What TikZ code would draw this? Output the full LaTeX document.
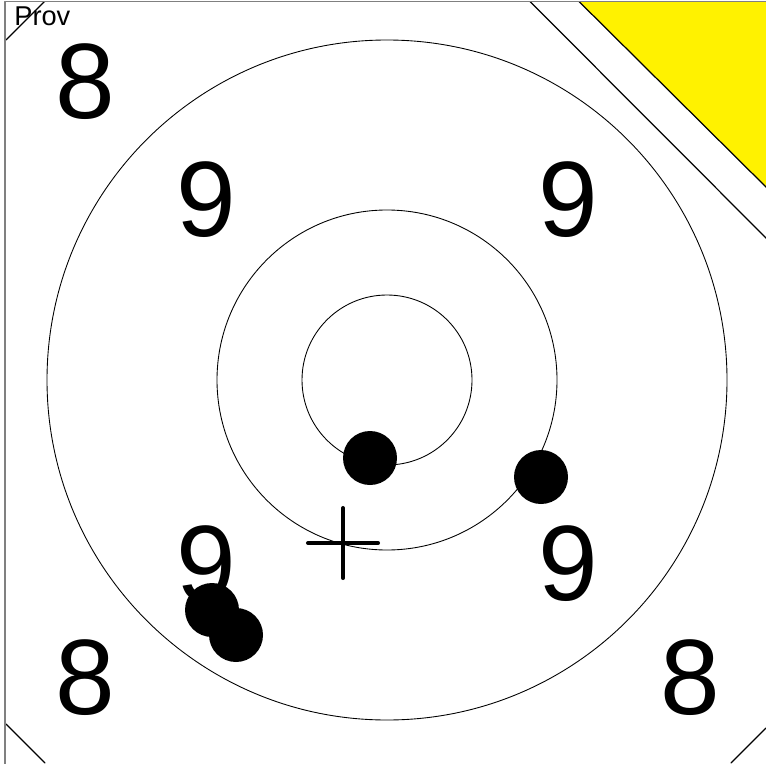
\documentclass[tikz,border=0pt]{standalone}
\usepackage{fontspec}
\setmainfont{Liberation Sans}
\usetikzlibrary{calc}
\begin{document}
\begin{tikzpicture}[x=0.02cm, y=-0.02cm, line cap=round, line join=round]
\tikzset{ring/.style={line width=0.5pt}, edge/.style={line width=0.7pt}, frame/.style={line width=0.6pt, draw=gray}, score/.style={inner sep=0pt, font=\fontsize{61}{61}\selectfont}, shot/.style={fill=black}, aim/.style={line width=2.3pt, line cap=round}}
\useasboundingbox (0,0) rectangle (766,763);
\clip (0,0) rectangle (766,763);

% target centre (px, y down)
\coordinate (C) at (387,380);

% corner mark
\fill[yellow] (579,1.5) -- (770,1.5) -- (770,191) -- cycle;
\draw[edge] (579,1.5) -- (770,191);
\draw[edge] (530,1.5) -- (770,242);
\draw[edge] (44.5,1.5) -- (6,40);
\draw[edge] (6,724) -- (45,763);
\draw[edge] (766,728) -- (731,763);

% frame
\draw[frame] (5,770) |- (770,1.5);

% rings
\draw[ring] (C) circle (85);
\draw[ring] (C) circle (170);
\draw[ring] (C) circle (340);

% scores
\node[score] (s8a) at (85,82) {8};
\node[score] (s9a) at (206,200) {9};
\node[score] (s9b) at (568,200) {9};
\node[score] (s9c) at (206,564) {9};
\node[score] (s9d) at (568,564) {9};
\node[score] (s8b) at (85,678) {8};
\node[score] (s8c) at (690,678) {8};

\node[anchor=north west, inner sep=0pt, font=\fontsize{15.5}{15.5}\selectfont] (prov) at (14,6) {Prov};

% shots
\fill[shot] (370,458) circle (27);
\fill[shot] (541,477) circle (27);
\fill[shot] (212,610) circle (27);
\fill[shot] (236,635) circle (27);

% aiming cross
\coordinate (X) at (343,543);
\draw[aim] ($(X)+(-35,0)$) -- ($(X)+(35,0)$);
\draw[aim] ($(X)+(0,-35)$) -- ($(X)+(0,35)$);
\end{tikzpicture}
\end{document}
